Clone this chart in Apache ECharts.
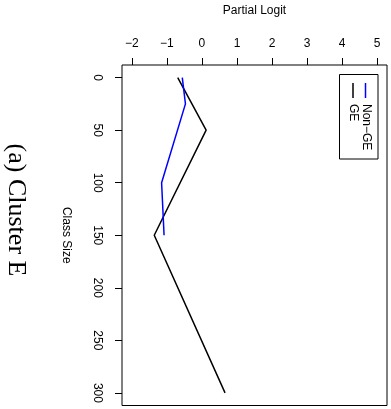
<!DOCTYPE html>
<html>
<head>
<meta charset="utf-8">
<script src="https://cdn.jsdelivr.net/npm/echarts@6/dist/echarts.min.js"></script>
<style>
html,body{margin:0;padding:0;background:#fff;}
#c{width:391px;height:409px;}
</style>
</head>
<body>
<div id="c"></div>
<script>
// Data
var classSizeGE = [0, 50, 150, 300];
var logitGE = [-0.69, 0.12, -1.36, 0.66];
var classSizeNonGE = [0, 25, 100, 150];
var logitNonGE = [-0.56, -0.47, -1.15, -1.08];
var xTicks = [-2, -1, 0, 1, 2, 3, 4, 5];
var yTicks = [0, 50, 100, 150, 200, 250, 300];
var seriesNames = ['Non\u2212GE', 'GE'];

function pairs(xs, ys) { return xs.map(function (x, i) { return [x, ys[i]]; }); }
var SANS = '"Liberation Sans", Arial, sans-serif';

var chart = echarts.init(document.getElementById('c'), null, {renderer: 'canvas'});
chart.setOption({
  animation: false,
  backgroundColor: '#fff',
  grid: {left: 122, top: 62, right: 4, bottom: 3.5, show: true, borderColor: '#000', borderWidth: 1, backgroundColor: 'transparent'},
  xAxis: {
    type: 'value', position: 'top', min: -2.28, max: 5.28,
    name: 'Partial Logit', nameLocation: 'middle', nameGap: 48,
    nameTextStyle: {fontFamily: SANS, fontSize: 12, color: '#000'},
    axisLine: {show: false, onZero: false},
    splitLine: {show: false},
    axisTick: {show: true, inside: false, customValues: xTicks, length: 7, lineStyle: {color: '#000', width: 1}},
    axisLabel: {customValues: xTicks, margin: 15, fontFamily: SANS, fontSize: 12, color: '#000',
      formatter: function (v) { return v < 0 ? '\u2212' + Math.abs(v) : String(v); }}
  },
  yAxis: {
    type: 'value', inverse: true, min: -12, max: 312,
    name: 'Class Size', nameLocation: 'middle', nameGap: 50, nameRotate: -90,
    nameTextStyle: {fontFamily: SANS, fontSize: 12, color: '#000'},
    axisLine: {show: false, onZero: false},
    splitLine: {show: false},
    axisTick: {show: true, inside: false, customValues: yTicks, length: 7, lineStyle: {color: '#000', width: 1}},
    axisLabel: {customValues: yTicks, rotate: -90, margin: 19, fontFamily: SANS, fontSize: 12, color: '#000'}
  },
  series: [
    {name: seriesNames[1], type: 'line', data: pairs(logitGE, classSizeGE), showSymbol: false,
      lineStyle: {color: '#000', width: 1.5}, itemStyle: {color: '#000'}},
    {name: seriesNames[0], type: 'line', data: pairs(logitNonGE, classSizeNonGE), showSymbol: false,
      lineStyle: {color: '#0000ff', width: 1.5}, itemStyle: {color: '#0000ff'}}
  ],
  graphic: [
    {type: 'text', x: 16, y: 210, rotation: -Math.PI / 2,
      style: {text: '(a) Cluster E', font: '26px "Liberation Serif", "Times New Roman", serif', fill: '#000', align: 'center', verticalAlign: 'middle'}},
    {type: 'rect', shape: {x: 339.5, y: 74.5, width: 38.5, height: 84.5}, style: {fill: '#fff', stroke: '#000', lineWidth: 1}, z: 100},
    {type: 'line', shape: {x1: 365.5, y1: 83, x2: 365.5, y2: 98}, style: {stroke: '#0000ff', lineWidth: 1.5}, z: 101},
    {type: 'line', shape: {x1: 353, y1: 83, x2: 353, y2: 98}, style: {stroke: '#000', lineWidth: 1.5}, z: 101},
    {type: 'text', x: 366, y: 104, rotation: -Math.PI / 2, z: 101,
      style: {text: seriesNames[0], font: '12px ' + SANS, fill: '#000', align: 'left', verticalAlign: 'middle'}},
    {type: 'text', x: 353, y: 104, rotation: -Math.PI / 2, z: 101,
      style: {text: seriesNames[1], font: '12px ' + SANS, fill: '#000', align: 'left', verticalAlign: 'middle'}}
  ]
});
</script>
</body>
</html>
